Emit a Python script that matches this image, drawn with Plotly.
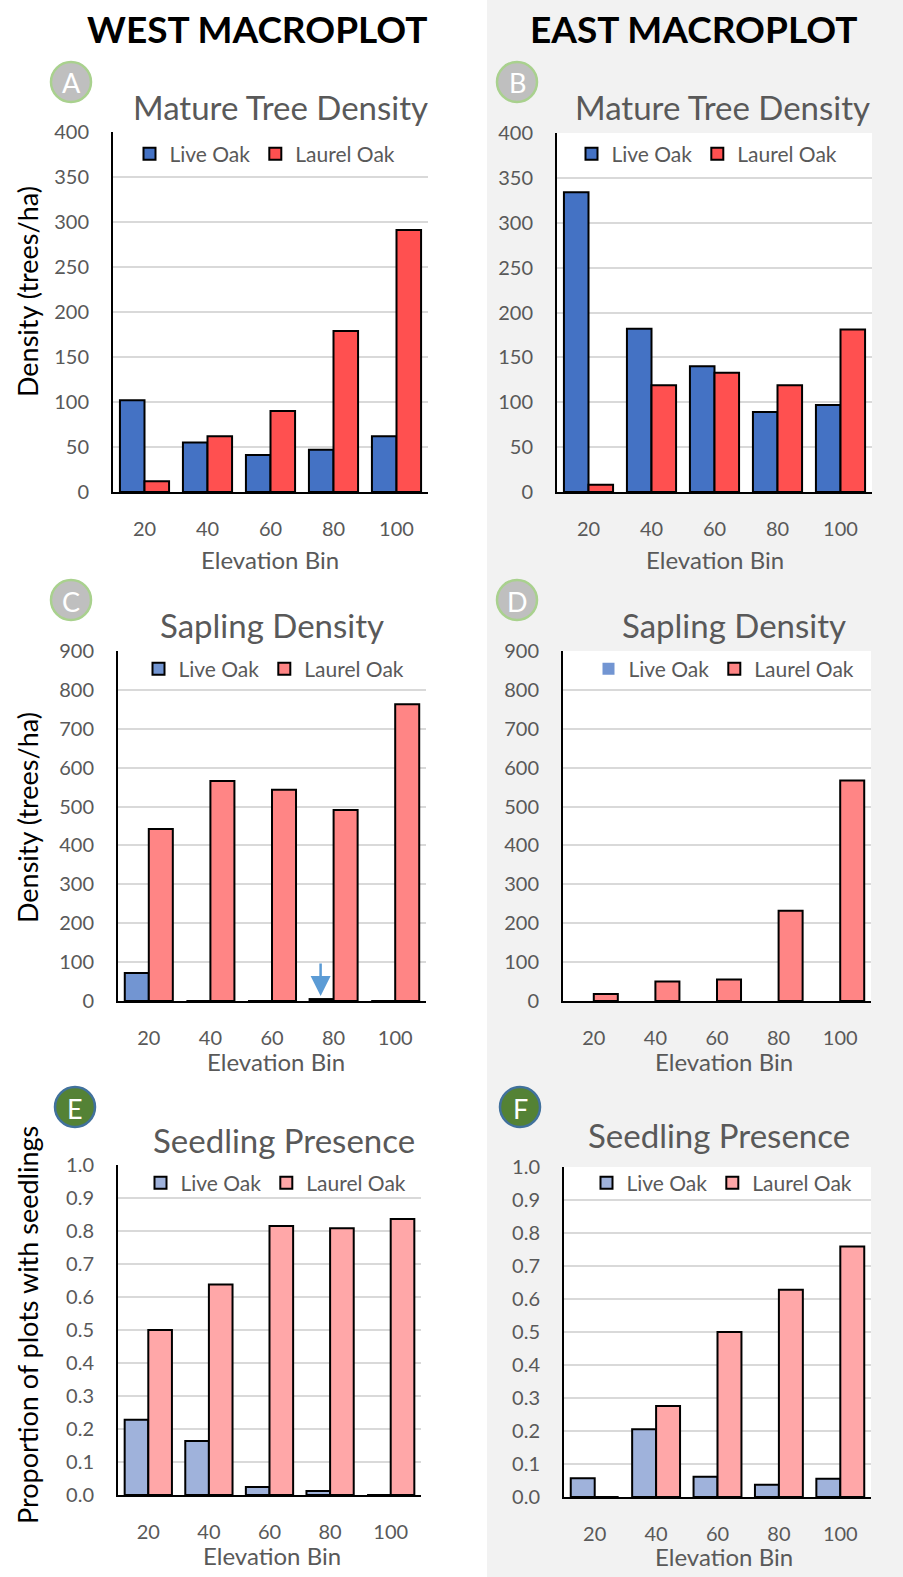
import plotly.graph_objects as go

W, H = 903, 1577

# Elevation bins shared by every panel
bins = ["20", "40", "60", "80", "100"]

# Mature tree density (trees/ha)
west_mature_live = [102, 55, 41, 47, 62]
west_mature_laurel = [12, 62, 90, 179, 291]
east_mature_live = [334, 182, 140, 89, 97]
east_mature_laurel = [8, 119, 133, 119, 181]

# Sapling density (trees/ha)
west_sapling_live = [72, 0, 0, 5, 0]
west_sapling_laurel = [442, 566, 543, 491, 763]
east_sapling_live = [0, 0, 0, 0, 0]
east_sapling_laurel = [18, 50, 55, 232, 567]

# Proportion of plots with seedlings
west_seedling_live = [0.228, 0.164, 0.024, 0.012, 0.0]
west_seedling_laurel = [0.50, 0.638, 0.815, 0.808, 0.836]
east_seedling_live = [0.057, 0.205, 0.061, 0.037, 0.055]
east_seedling_laurel = [0.0, 0.276, 0.50, 0.628, 0.759]

FONT = "Lato, Carlito, Calibri, sans-serif"
GREY_TXT = "#595959"


def px_x(v):
    return v / W


def px_y(v):
    return 1 - v / H


panels = [
    dict(tag="A", col="west", live=west_mature_live, laurel=west_mature_laurel,
         rng=[0, 400], dtick=50, fmt="d", box=(113, 428, 132, 492),
         colors=("#4472c4", "#ff5050"), title="Mature Tree Density",
         tpos=(280, 107), lpos=(265, 154), xt=(270, 559), badge=(71, 82),
         live_border=True),
    dict(tag="B", col="east", live=east_mature_live, laurel=east_mature_laurel,
         rng=[0, 400], dtick=50, fmt="d", box=(557, 872, 133, 492),
         colors=("#4472c4", "#ff5050"), title="Mature Tree Density",
         tpos=(722, 107), lpos=(707, 154), xt=(715, 559), badge=(517, 82),
         live_border=True),
    dict(tag="C", col="west", live=west_sapling_live, laurel=west_sapling_laurel,
         rng=[0, 900], dtick=100, fmt="d", box=(118, 426, 651, 1001),
         colors=("#7295d2", "#ff8585"), title="Sapling Density",
         tpos=(272, 625), lpos=(274, 669), xt=(276, 1061), badge=(71, 600),
         live_border=True),
    dict(tag="D", col="east", live=east_sapling_live, laurel=east_sapling_laurel,
         rng=[0, 900], dtick=100, fmt="d", box=(563, 871, 651, 1001),
         colors=("#7295d2", "#ff8585"), title="Sapling Density",
         tpos=(734, 625), lpos=(724, 669), xt=(724, 1061), badge=(517, 600),
         live_border=False),
    dict(tag="E", col="west", live=west_seedling_live, laurel=west_seedling_laurel,
         rng=[0, 1.0], dtick=0.1, fmt=".1f", box=(118, 421, 1165, 1495),
         colors=("#9fb2db", "#ffa7a8"), title="Seedling Presence",
         tpos=(284, 1140), lpos=(276, 1183), xt=(272, 1555), badge=(75, 1107),
         live_border=True),
    dict(tag="F", col="east", live=east_seedling_live, laurel=east_seedling_laurel,
         rng=[0, 1.0], dtick=0.1, fmt=".1f", box=(564, 871, 1167, 1497),
         colors=("#9fb2db", "#ffa7a8"), title="Seedling Presence",
         tpos=(719, 1135), lpos=(722, 1183), xt=(724, 1556), badge=(520, 1107),
         live_border=True),
]

fig = go.Figure()
layout = dict(
    width=W, height=H,
    margin=dict(l=0, r=0, t=0, b=0, pad=0, autoexpand=False),
    paper_bgcolor="white", plot_bgcolor="white",
    barmode="group", bargap=0.22, bargroupgap=0,
    font=dict(family=FONT, color=GREY_TXT, size=20),
    showlegend=True,
)
shapes = [
    # grey backdrop behind the east column
    dict(type="rect", xref="paper", yref="paper", x0=px_x(487), x1=1, y0=0, y1=1,
         fillcolor="#f2f2f2", line=dict(width=0), layer="below"),
]
annotations = []

for i, p in enumerate(panels, start=1):
    sfx = "" if i == 1 else str(i)
    xa, ya = "x" + sfx, "y" + sfx
    leg = "legend" + sfx
    x0, x1, y0, y1 = p["box"]
    live_c, laurel_c = p["colors"]

    fig.add_trace(go.Bar(
        x=bins, y=p["live"], name="Live Oak", xaxis=xa, yaxis=ya, legend=leg,
        marker=dict(color=live_c,
                    line=dict(color="black", width=2 if p["live_border"] else 0)),
    ))
    fig.add_trace(go.Bar(
        x=bins, y=p["laurel"], name="Laurel Oak", xaxis=xa, yaxis=ya, legend=leg,
        marker=dict(color=laurel_c, line=dict(color="black", width=2)),
    ))

    layout["xaxis" + sfx] = dict(
        domain=[px_x(x0), px_x(x1)], anchor=ya, type="category",
        categoryorder="array", categoryarray=bins,
        range=[-0.5, len(bins) - 0.5],
        showline=True, linecolor="black", linewidth=2, showgrid=False,
        ticks="", ticklabelstandoff=18,
        tickfont=dict(family=FONT, size=20, color=GREY_TXT),
    )
    layout["yaxis" + sfx] = dict(
        domain=[px_y(y1), px_y(y0)], anchor=xa, range=p["rng"], dtick=p["dtick"],
        tick0=0, tickformat=p["fmt"],
        showline=True, linecolor="black", linewidth=2,
        showgrid=True, gridcolor="#d9d9d9", gridwidth=1.5, zeroline=False,
        ticks="", ticklabelstandoff=18,
        tickfont=dict(family=FONT, size=20, color=GREY_TXT),
    )
    layout[leg] = dict(
        orientation="h", x=px_x(p["lpos"][0]), y=px_y(p["lpos"][1]),
        xanchor="center", yanchor="middle", bgcolor="rgba(0,0,0,0)",
        font=dict(family=FONT, size=21, color=GREY_TXT), itemwidth=30,
        traceorder="normal",
    )

    if p["col"] == "east":
        # white plot area on top of the grey backdrop
        shapes.append(dict(type="rect", xref=xa + " domain", yref=ya + " domain",
                           x0=0, x1=1, y0=0, y1=1, fillcolor="white",
                           line=dict(width=0), layer="below"))

    # panel title
    annotations.append(dict(
        text=p["title"], xref="paper", yref="paper",
        x=px_x(p["tpos"][0]), y=px_y(p["tpos"][1]),
        xanchor="center", yanchor="middle", showarrow=False,
        font=dict(family=FONT, size=33, color=GREY_TXT),
    ))
    # x axis title
    annotations.append(dict(
        text="Elevation Bin", xref="paper", yref="paper",
        x=px_x(p["xt"][0]), y=px_y(p["xt"][1]),
        xanchor="center", yanchor="middle", showarrow=False,
        font=dict(family=FONT, size=24, color=GREY_TXT),
    ))
    # lettered badge
    bx, by = p["badge"]
    r = 20
    if p["tag"] in ("E", "F"):
        fill, edge = "#548235", "#41719c"
    else:
        fill, edge = "#bfbfbf", "#a9d18e"
    shapes.append(dict(type="circle", xref="paper", yref="paper",
                       x0=px_x(bx - r), x1=px_x(bx + r),
                       y0=px_y(by + r), y1=px_y(by - r),
                       fillcolor=fill, line=dict(color=edge, width=2.5),
                       layer="above"))
    annotations.append(dict(
        text=p["tag"], xref="paper", yref="paper", x=px_x(bx), y=px_y(by + 1),
        xanchor="center", yanchor="middle", showarrow=False,
        font=dict(family=FONT, size=27, color="white"),
    ))

# y axis titles on the west column
for label, yc in [("Density (trees/ha)", 292), ("Density (trees/ha)", 818),
                  ("Proportion of plots with seedlings", 1325)]:
    annotations.append(dict(
        text=label, xref="paper", yref="paper", x=px_x(27), y=px_y(yc),
        xanchor="center", yanchor="middle", showarrow=False, textangle=-90,
        font=dict(family=FONT, size=27, color="black"),
    ))

# column headers
for label, xc in [("WEST MACROPLOT", 257), ("EAST MACROPLOT", 693)]:
    annotations.append(dict(
        text="<b>" + label + "</b>", xref="paper", yref="paper",
        x=px_x(xc), y=px_y(29), xanchor="center", yanchor="middle",
        showarrow=False, font=dict(family=FONT, size=37, color="black"),
    ))

# arrow pointing at the tiny live oak sapling bar in the 80 bin (west)
annotations.append(dict(
    x=bins.index("80"), y=west_sapling_live[3], xref="x3", yref="y3",
    xshift=-13, yshift=3,
    text="", showarrow=True, arrowhead=2, arrowsize=1.6, arrowwidth=2.5,
    arrowcolor="#5b9bd5", ax=0, ay=-34,
))

layout["shapes"] = shapes
layout["annotations"] = annotations
fig.update_layout(**layout)
fig.write_html("out.html")
